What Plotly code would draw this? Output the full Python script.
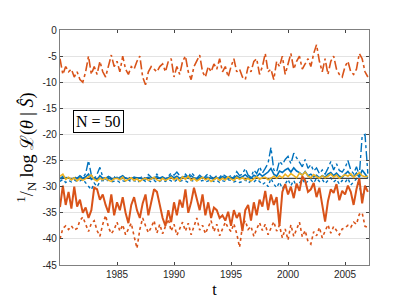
import plotly.graph_objects as go

# quarterly time axis 1980.00 .. 2007.00
t = [1980 + 0.25 * i for i in range(109)]

orange_dashdot = [
    -5.5, -8.5, -7, -8, -7.5, -9, -8, -9.5, -10, -8, -5, -8.5, -7, -8.5, -6, -8,
    -9, -7, -4.8, -7, -6, -8, -5, -7.5, -8.5, -7, -7.5, -6, -5, -9, -10.5, -8,
    -7, -7.5, -8, -7, -6.5, -8, -6, -5.5, -9, -7, -8.5, -6, -5, -8, -9.5, -7,
    -6, -4.8, -8, -9, -7, -8, -6.5, -7.5, -5.5, -8, -7, -9, -7, -5.5, -8, -7.5,
    -9, -9.5, -7, -8, -6, -5.5, -8.5, -7, -4.5, -8, -7.5, -9.5, -6, -7, -5, -8.5,
    -6.5, -4.5, -7.5, -6, -5, -7.5, -6.5, -5.5, -7, -4.5, -2.8, -6, -8, -5.5, -8.5, -6,
    -5, -7.5, -8.5, -9, -7, -6, -8, -8.5, -7.5, -4.5, -5.5, -8, -9]

blue_dashdot = [
    -28.5, -28, -28.3, -28.2, -28.6, -28.1, -28.4, -27.9, -28.3, -27.5, -25, -27.8,
    -28.5, -27.6, -26.3, -28.2, -28.4, -28, -28.3, -28.1, -28.5, -28.2, -27.9, -28.4,
    -28.1, -28.6, -28.2, -28.3, -28.4, -28, -28.5, -27.7, -28.2, -28.5, -27.6, -28.3,
    -28.1, -28.6, -28, -27.4, -27.8, -27.2, -27.9, -28.4, -27.6, -28.2, -27.3, -27.9,
    -28.4, -27.8, -28.3, -28, -27.5, -28.1, -28.4, -27.9, -28.2, -27.6, -28, -28.3,
    -27.8, -28.2, -27.1, -27.9, -27.6, -26.5, -27.8, -28.2, -26.8, -27.5, -26.2, -27.4,
    -26.5, -25.5, -22.5, -26.8, -27.2, -25.1, -25.8, -24.8, -24.2, -25.6, -23.6, -24.5,
    -25.3, -26.2, -24.8, -26.5, -25.8, -27, -26.4, -27.5, -26.8, -27.6, -26.5, -25.2,
    -26.8, -25.6, -26.9, -27.2, -26.4, -25, -26.8, -27.5, -26.2, -27.8, -20.3, -20, -27.5]

blue_dotted = [
    -29, -28.6, -29.2, -28.8, -29.1, -28.7, -29, -28.9, -28.6, -29.2, -29.8, -30.6,
    -29.3, -30, -29.1, -28.8, -29, -28.7, -29.1, -28.9, -28.8, -29.2, -28.9, -29,
    -28.7, -29.1, -28.8, -29.2, -28.9, -28.6, -29, -28.8, -29.1, -28.8, -29.2, -28.9,
    -28.7, -29, -28.6, -28.9, -29.1, -28.7, -29, -28.8, -28.9, -29.2, -28.8, -29,
    -28.6, -29, -28.8, -29.1, -28.9, -28.7, -29, -28.8, -29.2, -28.9, -29, -28.7,
    -28.8, -29.1, -28.9, -29.2, -29, -28.7, -29.3, -28.9, -29.1, -28.6, -29, -29.6,
    -29.2, -30, -28.4, -29.5, -30.2, -29.1, -30.4, -29.4, -28.6, -29.8, -28.8, -30.1,
    -29.2, -28.5, -29.5, -28.9, -28.7, -29.3, -28.4, -29, -28.6, -29.4, -28.8, -28.3,
    -29.1, -28.6, -29.5, -28.8, -29.2, -28.4, -29.7, -29, -28.5, -29.8, -32, -30.5, -29.5]

blue_solid = [
    -28.5, -28.2, -28.4, -28.3, -28.6, -28.3, -28.5, -28.2, -28.4, -28.1, -27.6, -28.6,
    -28.3, -28.7, -27.9, -28.4, -28.5, -28.3, -28.6, -28.4, -28.2, -28.5, -28.4, -28.3,
    -28.6, -28.4, -28.2, -28.5, -28.3, -28.6, -28.4, -28.2, -28.5, -28.3, -28.1, -28.4,
    -28.2, -28.5, -28.3, -27.9, -28.3, -28, -28.4, -28.2, -28, -28.4, -27.9, -28.3,
    -28.5, -28.2, -28.4, -28.1, -28.2, -28.4, -28.6, -28.3, -28.4, -28.1, -28.3, -28.5,
    -28.2, -28.4, -27.9, -28.3, -28.1, -27.7, -28.2, -28.4, -27.8, -28.1, -27.5, -28,
    -27.6, -27.2, -26.5, -27.6, -28, -27, -27.3, -26.8, -26.5, -27.2, -26.4, -27,
    -27.3, -27.8, -27.1, -27.9, -27.6, -28.1, -27.8, -28.3, -27.9, -28.2, -27.6, -27.3,
    -27.9, -27.4, -28, -28.2, -27.6, -27.1, -27.8, -28.1, -27.4, -28.2, -26.8, -27.6, -28.3]

yellow = [
    -28, -27.6, -28.6, -28.2, -28.7, -28.3, -28.9, -28.4, -28.8, -28.5, -28.1, -27.8,
    -28.6, -28.9, -28.4, -28.7, -28.3, -28.8, -29, -28.5, -28.4, -28.7, -28.2, -28.9,
    -28.6, -28.3, -28.8, -28.5, -29, -28.6, -28.4, -28.8, -28.5, -28.2, -28.7, -28.9,
    -28.4, -28.8, -28.5, -28.2, -28.7, -28.3, -28.9, -28.1, -28.6, -28, -28.8, -28.4,
    -28.9, -28.5, -28.2, -28.7, -28.4, -29, -28.6, -28.3, -28.8, -28.4, -28.7, -28.1,
    -28.5, -28.8, -28.2, -28.6, -28.3, -28.7, -28.4, -28.9, -28.5, -28.1, -28.6, -28.3,
    -28.2, -28.7, -28.4, -28, -28.4, -27.9, -28.3, -27.6, -28.1, -27.5, -27.9, -28.3,
    -27.4, -27.8, -27.2, -28, -28.3, -27.7, -28.1, -28.4, -27.9, -28.3, -28, -27.6,
    -28.2, -27.8, -28.4, -28.1, -27.7, -28, -27.5, -28.2, -27.8, -27.3, -27.9, -28.1, -28]

reference_level = -28.4

orange_solid = [
    -33.9, -29.8, -33.5, -31, -34.2, -30, -33.8, -32.5, -35, -34, -36, -34.5,
    -30.2, -30.5, -32.5, -31.5, -33.5, -35, -31.5, -35.5, -33, -34.5, -32, -35,
    -37, -33.5, -32, -34.5, -36, -33.2, -31.5, -35.5, -33, -30.5, -31, -33.5,
    -36, -37.5, -34.5, -36.8, -33, -35.5, -32.5, -34, -30.5, -35, -33, -30.2,
    -32.5, -34.5, -31.5, -35.5, -33, -36, -34, -34.5, -36, -35.5, -36.5, -34.8,
    -37.5, -34.5, -36, -35, -38.5, -34.5, -33.5, -36.5, -33, -35.5, -32.5, -33.8,
    -30.8, -34.5, -31.5, -33.5, -32, -37.5, -31, -29.5, -31.5, -30, -32.2, -29.4,
    -30.8, -28, -28.8, -31, -30.5, -29.3, -32, -30.2, -33.5, -36.7, -32.8, -30.5,
    -31.2, -29.5, -32.6, -30.8, -31.5, -29.8, -31, -33.5, -30.5, -28.4, -33.2, -29.8, -31]

orange_dotted = [
    -40, -38, -37.5, -38.2, -37.5, -38.3, -38, -36.5, -35.8, -37.2, -38.6, -37,
    -36.5, -38.4, -39.5, -37.2, -35.5, -37.8, -39, -38.2, -36.8, -38.5, -37.3, -39.2,
    -38, -37, -39.5, -41.8, -38.2, -36, -37.5, -38.8, -37.8, -36.5, -38.9, -37.2,
    -39, -37.5, -36.2, -38.5, -37.2, -39.3, -38, -36.8, -38.5, -37, -39.2, -37.6,
    -36, -38.3, -37.4, -39, -37.8, -36.5, -38.6, -37.2, -39.4, -38, -36.8, -37.9,
    -38.6, -37.1, -39, -41.6, -37.5, -36.5, -38.2, -37.6, -39.5, -38.1, -36.9, -38.4,
    -37.2, -39.2, -38, -36.7, -38.5, -37.4, -39.8, -38.1, -40.2, -37.3, -39.5, -38.2,
    -36.8, -39.6, -38.4, -40.5, -41, -38.6, -39.4, -37.8, -39.8, -38.5, -37.3, -38.9,
    -37.6, -38.4, -39.2, -38.1, -37.9, -37.4, -37.8, -36.8, -37.2, -35.3, -35, -37.6, -37.8]

x_ticks = [1985, 1990, 1995, 2000, 2005]
y_ticks = [0, -5, -10, -15, -20, -25, -30, -35, -40, -45]
y_ticktext = [str(v) for v in y_ticks]

BLUE = "#0072BD"
ORANGE = "#D95319"
YELLOW = "#EDB120"

fig = go.Figure()
fig.add_trace(go.Scatter(x=t, y=blue_dashdot, mode="lines",
                         line=dict(color=BLUE, width=1.4, dash="dashdot")))
fig.add_trace(go.Scatter(x=t, y=blue_dotted, mode="lines",
                         line=dict(color=BLUE, width=1.4, dash="dot")))
fig.add_trace(go.Scatter(x=[t[0], t[-1]], y=[reference_level, reference_level], mode="lines",
                         line=dict(color="#404040", width=1.2)))
fig.add_trace(go.Scatter(x=t, y=blue_solid, mode="lines",
                         line=dict(color=BLUE, width=1.6)))
fig.add_trace(go.Scatter(x=t, y=yellow, mode="lines",
                         line=dict(color=YELLOW, width=1.6)))
fig.add_trace(go.Scatter(x=t, y=orange_solid, mode="lines",
                         line=dict(color=ORANGE, width=2)))
fig.add_trace(go.Scatter(x=t, y=orange_dotted, mode="lines",
                         line=dict(color=ORANGE, width=1.6, dash="dot")))
fig.add_trace(go.Scatter(x=t, y=orange_dashdot, mode="lines",
                         line=dict(color=ORANGE, width=1.6, dash="dashdot")))

fig.add_annotation(x=1983.35, y=-17.5, text="N = 50", showarrow=False,
                   font=dict(family="Liberation Serif", size=16, color="black"),
                   bordercolor="black", borderwidth=1, borderpad=2, bgcolor="white")

fig.update_layout(
    width=399, height=299,
    margin=dict(l=52, r=38, t=22, b=38),
    paper_bgcolor="white", plot_bgcolor="white",
    showlegend=False,
    font=dict(family="Liberation Sans", size=10, color="#262626"),
    xaxis=dict(range=[1980, 2007.1], tickvals=x_ticks, ticks="inside", ticklen=3,
               showgrid=False, zeroline=False, showline=True, linecolor="#808080",
               linewidth=1.2, mirror="ticks",
               title=dict(text="t", font=dict(family="Liberation Serif", size=16, color="black"),
                          standoff=4)),
    yaxis=dict(range=[-45, 0], tickvals=y_ticks, ticktext=y_ticktext, ticks="inside", ticklen=3,
               showgrid=True, gridcolor="#e3e3e3", gridwidth=1, zeroline=False,
               showline=True, linecolor="#808080", linewidth=1.2, mirror="ticks",
               title=dict(text="<sup>1</sup>/<sub>N</sub> log ℒ(<i>θ</i> | <i>Ŝ</i>)",
                          font=dict(family="Liberation Serif", size=18, color="black"),
                          standoff=4)),
)

fig.write_html("out.html")
